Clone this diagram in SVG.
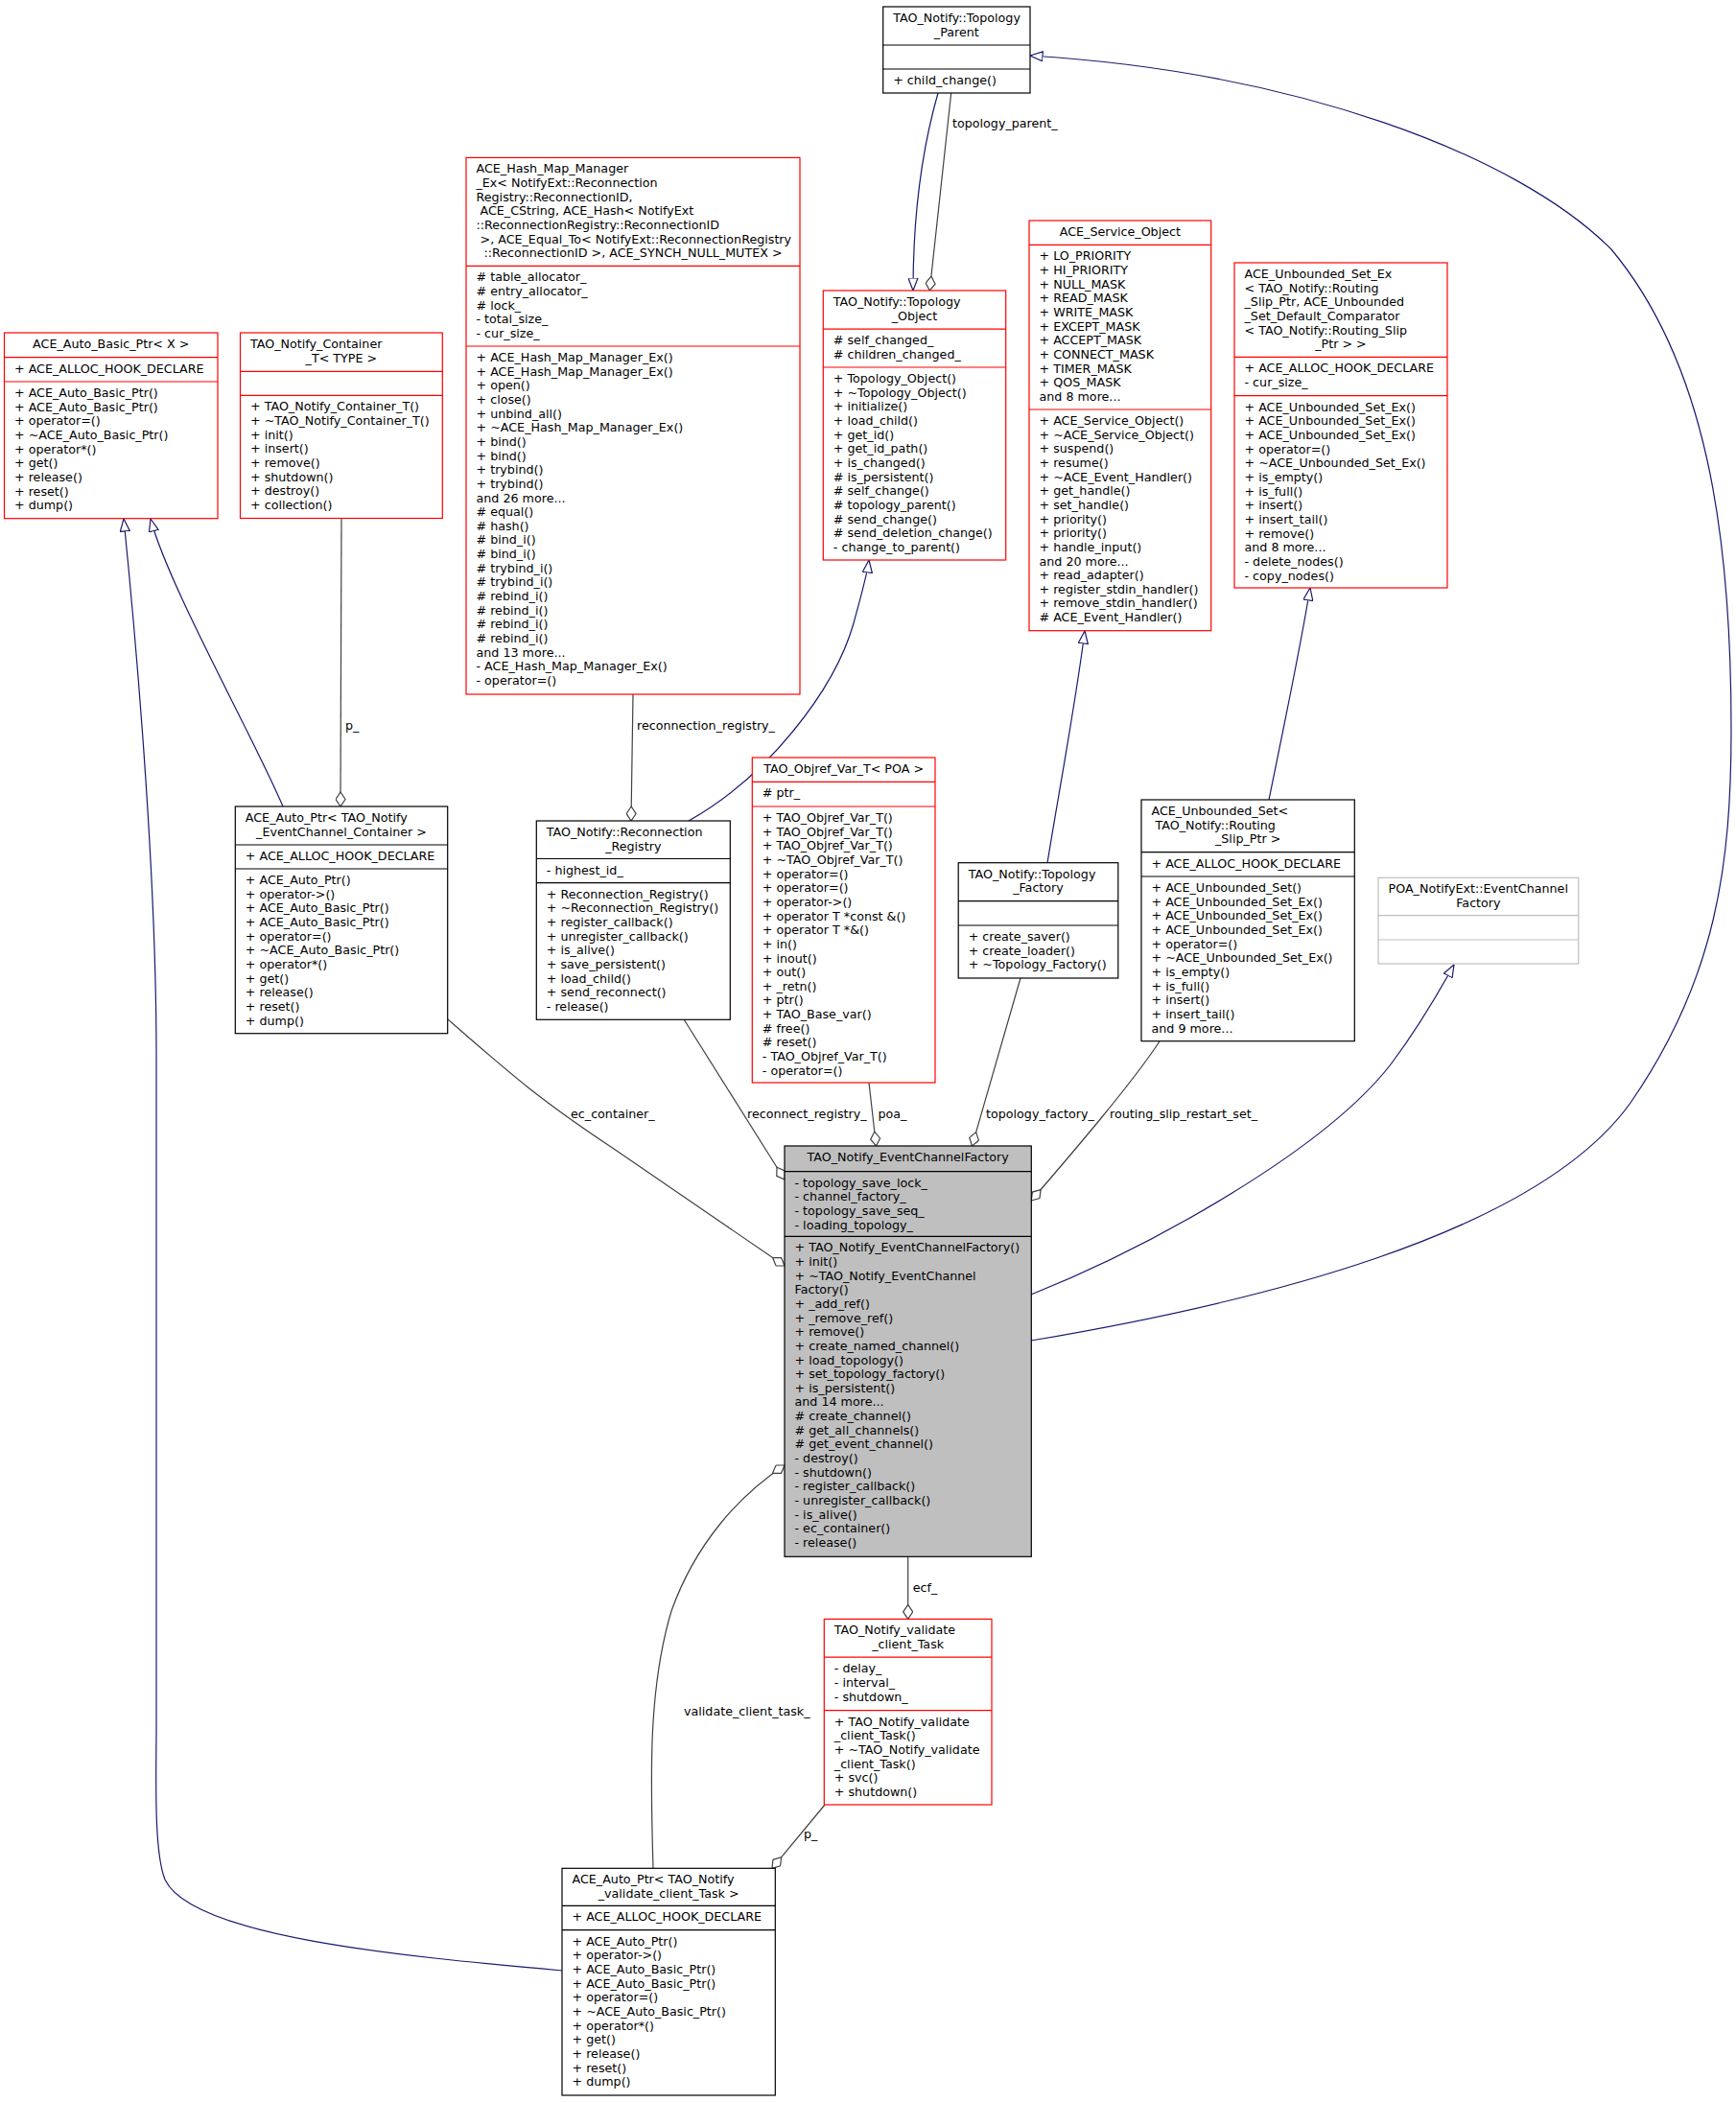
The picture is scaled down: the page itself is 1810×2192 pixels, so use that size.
<svg xmlns="http://www.w3.org/2000/svg" width="1810" height="2192" viewBox="0 0 1810 2192">
<style>
.bg{fill:#fff}
.box{fill:#fff;stroke-width:1.2}
.red{stroke:#ff0000}
.blk{stroke:#000}
.gry{stroke:#bfbfbf}
.main{fill:#bfbfbf;stroke:#000}
.dv{fill:none;stroke-width:1.2}
.t{font-family:"DejaVu Sans","Liberation Sans",sans-serif;font-size:12.7px;fill:#000}
.c{text-anchor:middle}
.inh{fill:none;stroke:#191970;stroke-width:1.2;marker-end:url(#tri)}
.agg{fill:none;stroke:#404040;stroke-width:1.2;marker-end:url(#dia)}
</style>
<defs>
<marker id="tri" viewBox="0 0 14 11" refX="13.5" refY="5.5" markerWidth="14" markerHeight="11" markerUnits="userSpaceOnUse" orient="auto">
<path d="M0.5,0.5 L13.5,5.5 L0.5,10.5 Z" fill="#fff" stroke="#191970" stroke-width="1.2"/>
</marker>
<marker id="dia" viewBox="0 0 16 11" refX="15.5" refY="5.5" markerWidth="16" markerHeight="11" markerUnits="userSpaceOnUse" orient="auto">
<path d="M0.5,5.5 L8,0.5 L15.5,5.5 L8,10.5 Z" fill="#fff" stroke="#404040" stroke-width="1.2"/>
</marker>
</defs>
<rect class="bg" x="0" y="0" width="1810" height="2192"/>

<g id="edges">
<path class="inh" d="M295,841 C265,770 175,610 157,541"/>
<path class="inh" d="M586,2055 C420,2040 200,2020 172,1960 C160,1930 163,1850 163,1800 L163,1100 C163,900 140,650 129,541"/>
<path class="inh" d="M978,97 C960,160 952,230 952,303"/>
<path class="agg" d="M991.7,97 L969.3,303"/>
<path class="inh" d="M1075,1398 C1300,1360 1600,1290 1700,1150 C1790,1020 1805,900 1805,760 C1805,560 1780,380 1680,260 C1580,160 1350,75 1074,58"/>
<path class="inh" d="M1075,1350 C1200,1300 1380,1200 1450,1110 C1480,1070 1500,1035 1516,1006"/>
<path class="inh" d="M718,856 C800,810 870,720 890,650 C898,620 904,600 906,584"/>
<path class="inh" d="M1092,900 C1105,820 1122,730 1131,658"/>
<path class="inh" d="M1323,834 C1338,760 1355,680 1366,613"/>
<path class="agg" d="M356,540.5 L355,841"/>
<path class="agg" d="M660,724 L658,856"/>
<path class="agg" d="M467,1063 C530,1118 560,1145 640,1198 L818,1320"/>
<path class="agg" d="M713,1063 L818,1230"/>
<path class="agg" d="M906,1129 L913.5,1195"/>
<path class="agg" d="M1064,1020 L1013.5,1195"/>
<path class="agg" d="M1209,1086 C1180,1130 1120,1200 1075.3,1252"/>
<path class="agg" d="M946.7,1623.3 L946.7,1688.4"/>
<path class="agg" d="M681,1948.3 C678,1850 676,1760 700,1680 C725,1610 770,1560 818,1528"/>
<path class="agg" d="M860,1882 L805,1948.3"/>
<text class="t" x="993" y="133">topology_parent_</text>
<text class="t" x="360" y="761">p_</text>
<text class="t" x="664" y="761">reconnection_registry_</text>
<text class="t" x="595" y="1166">ec_container_</text>
<text class="t" x="779" y="1166">reconnect_registry_</text>
<text class="t" x="915.5" y="1166">poa_</text>
<text class="t" x="1028" y="1166">topology_factory_</text>
<text class="t" x="1157" y="1166">routing_slip_restart_set_</text>
<text class="t" x="951.7" y="1660">ecf_</text>
<text class="t" x="713" y="1789">validate_client_task_</text>
<text class="t" x="838" y="1917">p_</text>
</g>

<g id="ACE_Auto_Basic_Ptr">
<rect class="box red" x="4.5" y="347" width="222.5" height="193.7"/>
<path class="dv red" d="M4.5,372.7H227M4.5,398H227"/>
<text class="t c" x="115.75" y="363">ACE_Auto_Basic_Ptr&lt; X &gt;</text>
<text class="t" x="15" y="389">+ ACE_ALLOC_HOOK_DECLARE</text>
<text class="t" x="15" y="414"><tspan x="15">+ ACE_Auto_Basic_Ptr()</tspan><tspan x="15" dy="14.65">+ ACE_Auto_Basic_Ptr()</tspan><tspan x="15" dy="14.65">+ operator=()</tspan><tspan x="15" dy="14.65">+ ~ACE_Auto_Basic_Ptr()</tspan><tspan x="15" dy="14.65">+ operator*()</tspan><tspan x="15" dy="14.65">+ get()</tspan><tspan x="15" dy="14.65">+ release()</tspan><tspan x="15" dy="14.65">+ reset()</tspan><tspan x="15" dy="14.65">+ dump()</tspan></text>
</g>

<g id="TAO_Notify_Container_T">
<rect class="box red" x="250.5" y="347" width="210.8" height="193.5"/>
<path class="dv red" d="M250.5,387.3H461.3M250.5,412.3H461.3"/>
<text class="t" x="261" y="363">TAO_Notify_Container</text>
<text class="t c" x="355.9" y="377.65">_T&lt; TYPE &gt;</text>
<text class="t" x="261" y="428.3"><tspan x="261">+ TAO_Notify_Container_T()</tspan><tspan x="261" dy="14.65">+ ~TAO_Notify_Container_T()</tspan><tspan x="261" dy="14.65">+ init()</tspan><tspan x="261" dy="14.65">+ insert()</tspan><tspan x="261" dy="14.65">+ remove()</tspan><tspan x="261" dy="14.65">+ shutdown()</tspan><tspan x="261" dy="14.65">+ destroy()</tspan><tspan x="261" dy="14.65">+ collection()</tspan></text>
</g>

<g id="ACE_Hash_Map_Manager_Ex">
<rect class="box red" x="486" y="164.4" width="348" height="559.6"/>
<path class="dv red" d="M486,277.4H834M486,361H834"/>
<text class="t" x="496.5" y="180.4"><tspan x="496.5">ACE_Hash_Map_Manager</tspan><tspan x="496.5" dy="14.65">_Ex&lt; NotifyExt::Reconnection</tspan><tspan x="496.5" dy="14.65">Registry::ReconnectionID,</tspan><tspan x="500.5" dy="14.65">ACE_CString, ACE_Hash&lt; NotifyExt</tspan><tspan x="496.5" dy="14.65">::ReconnectionRegistry::ReconnectionID</tspan><tspan x="500.5" dy="14.65">&gt;, ACE_Equal_To&lt; NotifyExt::ReconnectionRegistry</tspan></text>
<text class="t c" x="660" y="268.3">::ReconnectionID &gt;, ACE_SYNCH_NULL_MUTEX &gt;</text>
<text class="t" x="496.5" y="293.4"><tspan x="496.5"># table_allocator_</tspan><tspan x="496.5" dy="14.65"># entry_allocator_</tspan><tspan x="496.5" dy="14.65"># lock_</tspan><tspan x="496.5" dy="14.65">- total_size_</tspan><tspan x="496.5" dy="14.65">- cur_size_</tspan></text>
<text class="t" x="496.5" y="377"><tspan x="496.5">+ ACE_Hash_Map_Manager_Ex()</tspan><tspan x="496.5" dy="14.65">+ ACE_Hash_Map_Manager_Ex()</tspan><tspan x="496.5" dy="14.65">+ open()</tspan><tspan x="496.5" dy="14.65">+ close()</tspan><tspan x="496.5" dy="14.65">+ unbind_all()</tspan><tspan x="496.5" dy="14.65">+ ~ACE_Hash_Map_Manager_Ex()</tspan><tspan x="496.5" dy="14.65">+ bind()</tspan><tspan x="496.5" dy="14.65">+ bind()</tspan><tspan x="496.5" dy="14.65">+ trybind()</tspan><tspan x="496.5" dy="14.65">+ trybind()</tspan><tspan x="496.5" dy="14.65">and 26 more...</tspan><tspan x="496.5" dy="14.65"># equal()</tspan><tspan x="496.5" dy="14.65"># hash()</tspan><tspan x="496.5" dy="14.65"># bind_i()</tspan><tspan x="496.5" dy="14.65"># bind_i()</tspan><tspan x="496.5" dy="14.65"># trybind_i()</tspan><tspan x="496.5" dy="14.65"># trybind_i()</tspan><tspan x="496.5" dy="14.65"># rebind_i()</tspan><tspan x="496.5" dy="14.65"># rebind_i()</tspan><tspan x="496.5" dy="14.65"># rebind_i()</tspan><tspan x="496.5" dy="14.65"># rebind_i()</tspan><tspan x="496.5" dy="14.65">and 13 more...</tspan><tspan x="496.5" dy="14.65">- ACE_Hash_Map_Manager_Ex()</tspan><tspan x="496.5" dy="14.65">- operator=()</tspan></text>
</g>

<g id="Topology_Parent">
<rect class="box blk" x="920.7" y="7" width="153.3" height="90"/>
<path class="dv blk" d="M920.7,47H1074M920.7,72H1074"/>
<text class="t" x="931.2" y="23">TAO_Notify::Topology</text>
<text class="t c" x="997.35" y="37.65">_Parent</text>
<text class="t" x="931.2" y="88">+ child_change()</text>
</g>

<g id="Topology_Object">
<rect class="box red" x="858.3" y="303" width="190.4" height="281"/>
<path class="dv red" d="M858.3,343.2H1048.7M858.3,383H1048.7"/>
<text class="t" x="868.8" y="319">TAO_Notify::Topology</text>
<text class="t c" x="953.5" y="333.65">_Object</text>
<text class="t" x="868.8" y="359.2"><tspan x="868.8"># self_changed_</tspan><tspan x="868.8" dy="14.65"># children_changed_</tspan></text>
<text class="t" x="868.8" y="399"><tspan x="868.8">+ Topology_Object()</tspan><tspan x="868.8" dy="14.65">+ ~Topology_Object()</tspan><tspan x="868.8" dy="14.65">+ initialize()</tspan><tspan x="868.8" dy="14.65">+ load_child()</tspan><tspan x="868.8" dy="14.65">+ get_id()</tspan><tspan x="868.8" dy="14.65">+ get_id_path()</tspan><tspan x="868.8" dy="14.65">+ is_changed()</tspan><tspan x="868.8" dy="14.65"># is_persistent()</tspan><tspan x="868.8" dy="14.65"># self_change()</tspan><tspan x="868.8" dy="14.65"># topology_parent()</tspan><tspan x="868.8" dy="14.65"># send_change()</tspan><tspan x="868.8" dy="14.65"># send_deletion_change()</tspan><tspan x="868.8" dy="14.65">- change_to_parent()</tspan></text>
</g>

<g id="ACE_Service_Object">
<rect class="box red" x="1073" y="230" width="189.7" height="427.7"/>
<path class="dv red" d="M1073,255.3H1262.7M1073,427H1262.7"/>
<text class="t c" x="1167.85" y="246">ACE_Service_Object</text>
<text class="t" x="1083.5" y="271.3"><tspan x="1083.5">+ LO_PRIORITY</tspan><tspan x="1083.5" dy="14.65">+ HI_PRIORITY</tspan><tspan x="1083.5" dy="14.65">+ NULL_MASK</tspan><tspan x="1083.5" dy="14.65">+ READ_MASK</tspan><tspan x="1083.5" dy="14.65">+ WRITE_MASK</tspan><tspan x="1083.5" dy="14.65">+ EXCEPT_MASK</tspan><tspan x="1083.5" dy="14.65">+ ACCEPT_MASK</tspan><tspan x="1083.5" dy="14.65">+ CONNECT_MASK</tspan><tspan x="1083.5" dy="14.65">+ TIMER_MASK</tspan><tspan x="1083.5" dy="14.65">+ QOS_MASK</tspan><tspan x="1083.5" dy="14.65">and 8 more...</tspan></text>
<text class="t" x="1083.5" y="443"><tspan x="1083.5">+ ACE_Service_Object()</tspan><tspan x="1083.5" dy="14.65">+ ~ACE_Service_Object()</tspan><tspan x="1083.5" dy="14.65">+ suspend()</tspan><tspan x="1083.5" dy="14.65">+ resume()</tspan><tspan x="1083.5" dy="14.65">+ ~ACE_Event_Handler()</tspan><tspan x="1083.5" dy="14.65">+ get_handle()</tspan><tspan x="1083.5" dy="14.65">+ set_handle()</tspan><tspan x="1083.5" dy="14.65">+ priority()</tspan><tspan x="1083.5" dy="14.65">+ priority()</tspan><tspan x="1083.5" dy="14.65">+ handle_input()</tspan><tspan x="1083.5" dy="14.65">and 20 more...</tspan><tspan x="1083.5" dy="14.65">+ read_adapter()</tspan><tspan x="1083.5" dy="14.65">+ register_stdin_handler()</tspan><tspan x="1083.5" dy="14.65">+ remove_stdin_handler()</tspan><tspan x="1083.5" dy="14.65"># ACE_Event_Handler()</tspan></text>
</g>

<g id="ACE_Unbounded_Set_Ex">
<rect class="box red" x="1287" y="274" width="222" height="339"/>
<path class="dv red" d="M1287,372.3H1509M1287,412.7H1509"/>
<text class="t" x="1297.5" y="290"><tspan x="1297.5">ACE_Unbounded_Set_Ex</tspan><tspan x="1297.5" dy="14.65">&lt; TAO_Notify::Routing</tspan><tspan x="1297.5" dy="14.65">_Slip_Ptr, ACE_Unbounded</tspan><tspan x="1297.5" dy="14.65">_Set_Default_Comparator</tspan><tspan x="1297.5" dy="14.65">&lt; TAO_Notify::Routing_Slip</tspan></text>
<text class="t c" x="1398" y="363.25">_Ptr &gt; &gt;</text>
<text class="t" x="1297.5" y="388.3"><tspan x="1297.5">+ ACE_ALLOC_HOOK_DECLARE</tspan><tspan x="1297.5" dy="14.65">- cur_size_</tspan></text>
<text class="t" x="1297.5" y="428.7"><tspan x="1297.5">+ ACE_Unbounded_Set_Ex()</tspan><tspan x="1297.5" dy="14.65">+ ACE_Unbounded_Set_Ex()</tspan><tspan x="1297.5" dy="14.65">+ ACE_Unbounded_Set_Ex()</tspan><tspan x="1297.5" dy="14.65">+ operator=()</tspan><tspan x="1297.5" dy="14.65">+ ~ACE_Unbounded_Set_Ex()</tspan><tspan x="1297.5" dy="14.65">+ is_empty()</tspan><tspan x="1297.5" dy="14.65">+ is_full()</tspan><tspan x="1297.5" dy="14.65">+ insert()</tspan><tspan x="1297.5" dy="14.65">+ insert_tail()</tspan><tspan x="1297.5" dy="14.65">+ remove()</tspan><tspan x="1297.5" dy="14.65">and 8 more...</tspan><tspan x="1297.5" dy="14.65">- delete_nodes()</tspan><tspan x="1297.5" dy="14.65">- copy_nodes()</tspan></text>
</g>

<g id="ACE_Auto_Ptr_EventChannel_Container">
<rect class="box blk" x="245.3" y="841" width="221.4" height="236.7"/>
<path class="dv blk" d="M245.3,881H466.7M245.3,906H466.7"/>
<text class="t" x="255.8" y="857">ACE_Auto_Ptr&lt; TAO_Notify</text>
<text class="t c" x="356" y="871.65">_EventChannel_Container &gt;</text>
<text class="t" x="255.8" y="897">+ ACE_ALLOC_HOOK_DECLARE</text>
<text class="t" x="255.8" y="922"><tspan x="255.8">+ ACE_Auto_Ptr()</tspan><tspan x="255.8" dy="14.65">+ operator-&gt;()</tspan><tspan x="255.8" dy="14.65">+ ACE_Auto_Basic_Ptr()</tspan><tspan x="255.8" dy="14.65">+ ACE_Auto_Basic_Ptr()</tspan><tspan x="255.8" dy="14.65">+ operator=()</tspan><tspan x="255.8" dy="14.65">+ ~ACE_Auto_Basic_Ptr()</tspan><tspan x="255.8" dy="14.65">+ operator*()</tspan><tspan x="255.8" dy="14.65">+ get()</tspan><tspan x="255.8" dy="14.65">+ release()</tspan><tspan x="255.8" dy="14.65">+ reset()</tspan><tspan x="255.8" dy="14.65">+ dump()</tspan></text>
</g>

<g id="Reconnection_Registry">
<rect class="box blk" x="559.3" y="856" width="202" height="207.3"/>
<path class="dv blk" d="M559.3,895.5H761.3M559.3,920.7H761.3"/>
<text class="t" x="569.8" y="872">TAO_Notify::Reconnection</text>
<text class="t c" x="660.3" y="886.65">_Registry</text>
<text class="t" x="569.8" y="911.5">- highest_id_</text>
<text class="t" x="569.8" y="936.7"><tspan x="569.8">+ Reconnection_Registry()</tspan><tspan x="569.8" dy="14.65">+ ~Reconnection_Registry()</tspan><tspan x="569.8" dy="14.65">+ register_callback()</tspan><tspan x="569.8" dy="14.65">+ unregister_callback()</tspan><tspan x="569.8" dy="14.65">+ is_alive()</tspan><tspan x="569.8" dy="14.65">+ save_persistent()</tspan><tspan x="569.8" dy="14.65">+ load_child()</tspan><tspan x="569.8" dy="14.65">+ send_reconnect()</tspan><tspan x="569.8" dy="14.65">- release()</tspan></text>
</g>

<g id="TAO_Objref_Var_T">
<rect class="box red" x="784.3" y="790" width="190.7" height="339"/>
<path class="dv red" d="M784.3,815.3H975M784.3,841H975"/>
<text class="t c" x="879.65" y="806">TAO_Objref_Var_T&lt; POA &gt;</text>
<text class="t" x="794.8" y="831.3"># ptr_</text>
<text class="t" x="794.8" y="857"><tspan x="794.8">+ TAO_Objref_Var_T()</tspan><tspan x="794.8" dy="14.65">+ TAO_Objref_Var_T()</tspan><tspan x="794.8" dy="14.65">+ TAO_Objref_Var_T()</tspan><tspan x="794.8" dy="14.65">+ ~TAO_Objref_Var_T()</tspan><tspan x="794.8" dy="14.65">+ operator=()</tspan><tspan x="794.8" dy="14.65">+ operator=()</tspan><tspan x="794.8" dy="14.65">+ operator-&gt;()</tspan><tspan x="794.8" dy="14.65">+ operator T *const &amp;()</tspan><tspan x="794.8" dy="14.65">+ operator T *&amp;()</tspan><tspan x="794.8" dy="14.65">+ in()</tspan><tspan x="794.8" dy="14.65">+ inout()</tspan><tspan x="794.8" dy="14.65">+ out()</tspan><tspan x="794.8" dy="14.65">+ _retn()</tspan><tspan x="794.8" dy="14.65">+ ptr()</tspan><tspan x="794.8" dy="14.65">+ TAO_Base_var()</tspan><tspan x="794.8" dy="14.65"># free()</tspan><tspan x="794.8" dy="14.65"># reset()</tspan><tspan x="794.8" dy="14.65">- TAO_Objref_Var_T()</tspan><tspan x="794.8" dy="14.65">- operator=()</tspan></text>
</g>

<g id="Topology_Factory">
<rect class="box blk" x="999.2" y="899.7" width="166.6" height="120.3"/>
<path class="dv blk" d="M999.2,939.7H1165.8M999.2,965H1165.8"/>
<text class="t" x="1009.7" y="915.7">TAO_Notify::Topology</text>
<text class="t c" x="1082.5" y="930.35">_Factory</text>
<text class="t" x="1009.7" y="981"><tspan x="1009.7">+ create_saver()</tspan><tspan x="1009.7" dy="14.65">+ create_loader()</tspan><tspan x="1009.7" dy="14.65">+ ~Topology_Factory()</tspan></text>
</g>

<g id="ACE_Unbounded_Set">
<rect class="box blk" x="1190" y="834" width="222.3" height="251.7"/>
<path class="dv blk" d="M1190,888.7H1412.3M1190,914H1412.3"/>
<text class="t" x="1200.5" y="850">ACE_Unbounded_Set&lt;</text>
<text class="t" x="1204.5" y="864.65">TAO_Notify::Routing</text>
<text class="t c" x="1301.15" y="879.3">_Slip_Ptr &gt;</text>
<text class="t" x="1200.5" y="904.7">+ ACE_ALLOC_HOOK_DECLARE</text>
<text class="t" x="1200.5" y="930"><tspan x="1200.5">+ ACE_Unbounded_Set()</tspan><tspan x="1200.5" dy="14.65">+ ACE_Unbounded_Set_Ex()</tspan><tspan x="1200.5" dy="14.65">+ ACE_Unbounded_Set_Ex()</tspan><tspan x="1200.5" dy="14.65">+ ACE_Unbounded_Set_Ex()</tspan><tspan x="1200.5" dy="14.65">+ operator=()</tspan><tspan x="1200.5" dy="14.65">+ ~ACE_Unbounded_Set_Ex()</tspan><tspan x="1200.5" dy="14.65">+ is_empty()</tspan><tspan x="1200.5" dy="14.65">+ is_full()</tspan><tspan x="1200.5" dy="14.65">+ insert()</tspan><tspan x="1200.5" dy="14.65">+ insert_tail()</tspan><tspan x="1200.5" dy="14.65">and 9 more...</tspan></text>
</g>

<g id="POA_NotifyExt_EventChannelFactory">
<rect class="box gry" x="1437" y="915.3" width="208.8" height="89.7"/>
<path class="dv gry" d="M1437,954.7H1645.8M1437,980H1645.8"/>
<text class="t" x="1447.5" y="931.3">POA_NotifyExt::EventChannel</text>
<text class="t c" x="1541.4" y="945.95">Factory</text>
</g>

<g id="TAO_Notify_EventChannelFactory">
<rect class="main" stroke-width="1.2" x="818" y="1195" width="257.3" height="428.3"/>
<path class="dv blk" d="M818,1221.7H1075.3M818,1289.3H1075.3"/>
<text class="t c" x="946.65" y="1211">TAO_Notify_EventChannelFactory</text>
<text class="t" x="828.5" y="1237.7"><tspan x="828.5">- topology_save_lock_</tspan><tspan x="828.5" dy="14.65">- channel_factory_</tspan><tspan x="828.5" dy="14.65">- topology_save_seq_</tspan><tspan x="828.5" dy="14.65">- loading_topology_</tspan></text>
<text class="t" x="828.5" y="1305.3"><tspan x="828.5">+ TAO_Notify_EventChannelFactory()</tspan><tspan x="828.5" dy="14.65">+ init()</tspan><tspan x="828.5" dy="14.65">+ ~TAO_Notify_EventChannel</tspan><tspan x="828.5" dy="14.65">Factory()</tspan><tspan x="828.5" dy="14.65">+ _add_ref()</tspan><tspan x="828.5" dy="14.65">+ _remove_ref()</tspan><tspan x="828.5" dy="14.65">+ remove()</tspan><tspan x="828.5" dy="14.65">+ create_named_channel()</tspan><tspan x="828.5" dy="14.65">+ load_topology()</tspan><tspan x="828.5" dy="14.65">+ set_topology_factory()</tspan><tspan x="828.5" dy="14.65">+ is_persistent()</tspan><tspan x="828.5" dy="14.65">and 14 more...</tspan><tspan x="828.5" dy="14.65"># create_channel()</tspan><tspan x="828.5" dy="14.65"># get_all_channels()</tspan><tspan x="828.5" dy="14.65"># get_event_channel()</tspan><tspan x="828.5" dy="14.65">- destroy()</tspan><tspan x="828.5" dy="14.65">- shutdown()</tspan><tspan x="828.5" dy="14.65">- register_callback()</tspan><tspan x="828.5" dy="14.65">- unregister_callback()</tspan><tspan x="828.5" dy="14.65">- is_alive()</tspan><tspan x="828.5" dy="14.65">- ec_container()</tspan><tspan x="828.5" dy="14.65">- release()</tspan></text>
</g>

<g id="TAO_Notify_validate_client_Task">
<rect class="box red" x="859.3" y="1688.4" width="174.7" height="193.6"/>
<path class="dv red" d="M859.3,1728.2H1034M859.3,1783.6H1034"/>
<text class="t" x="869.8" y="1704.4">TAO_Notify_validate</text>
<text class="t c" x="946.65" y="1719.05">_client_Task</text>
<text class="t" x="869.8" y="1744.2"><tspan x="869.8">- delay_</tspan><tspan x="869.8" dy="14.65">- interval_</tspan><tspan x="869.8" dy="14.65">- shutdown_</tspan></text>
<text class="t" x="869.8" y="1799.6"><tspan x="869.8">+ TAO_Notify_validate</tspan><tspan x="869.8" dy="14.65">_client_Task()</tspan><tspan x="869.8" dy="14.65">+ ~TAO_Notify_validate</tspan><tspan x="869.8" dy="14.65">_client_Task()</tspan><tspan x="869.8" dy="14.65">+ svc()</tspan><tspan x="869.8" dy="14.65">+ shutdown()</tspan></text>
</g>

<g id="ACE_Auto_Ptr_validate_client_Task">
<rect class="box blk" x="586" y="1948.3" width="222.3" height="236.7"/>
<path class="dv blk" d="M586,1987.3H808.3M586,2012.7H808.3"/>
<text class="t" x="596.5" y="1964.3">ACE_Auto_Ptr&lt; TAO_Notify</text>
<text class="t c" x="697.15" y="1978.95">_validate_client_Task &gt;</text>
<text class="t" x="596.5" y="2003.3">+ ACE_ALLOC_HOOK_DECLARE</text>
<text class="t" x="596.5" y="2028.7"><tspan x="596.5">+ ACE_Auto_Ptr()</tspan><tspan x="596.5" dy="14.65">+ operator-&gt;()</tspan><tspan x="596.5" dy="14.65">+ ACE_Auto_Basic_Ptr()</tspan><tspan x="596.5" dy="14.65">+ ACE_Auto_Basic_Ptr()</tspan><tspan x="596.5" dy="14.65">+ operator=()</tspan><tspan x="596.5" dy="14.65">+ ~ACE_Auto_Basic_Ptr()</tspan><tspan x="596.5" dy="14.65">+ operator*()</tspan><tspan x="596.5" dy="14.65">+ get()</tspan><tspan x="596.5" dy="14.65">+ release()</tspan><tspan x="596.5" dy="14.65">+ reset()</tspan><tspan x="596.5" dy="14.65">+ dump()</tspan></text>
</g>
</svg>
